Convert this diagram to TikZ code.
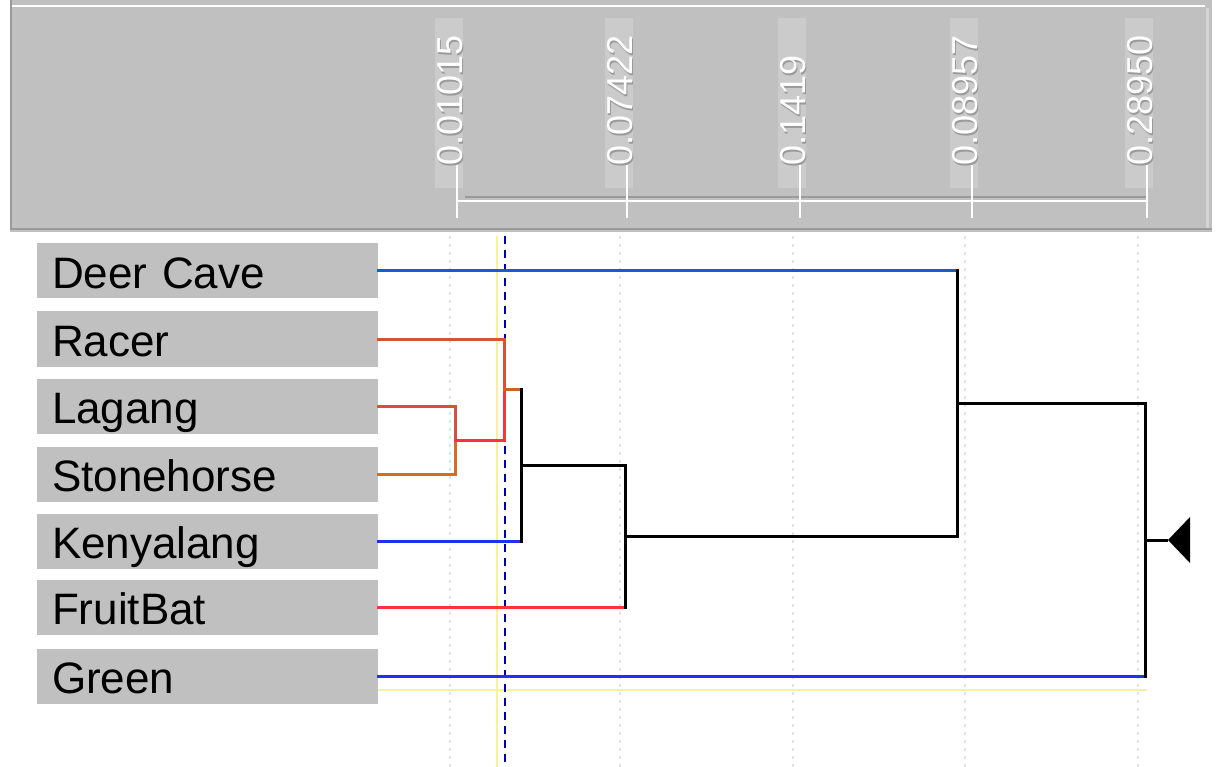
\documentclass[tikz,border=0pt]{standalone}
\usepackage{fontspec}
\setmainfont{Liberation Sans}
\definecolor{hdrgray}{HTML}{C0C0C0}
\definecolor{hdrdark}{HTML}{9A9A9A}
\definecolor{hdrlight}{HTML}{D4D4D4}
\definecolor{lblcol}{HTML}{CBCBCB}
\definecolor{boxgray}{HTML}{C0C0C0}
\definecolor{blueA}{HTML}{1060D0}
\definecolor{blueB}{HTML}{2030F0}
\definecolor{redA}{HTML}{D85038}
\definecolor{orngA}{HTML}{D86C1C}
\definecolor{redB}{HTML}{FF3040}
\definecolor{orngB}{HTML}{D06020}
\definecolor{dashcol}{HTML}{0000A8}
\definecolor{paleyel}{HTML}{F6F0A0}
\definecolor{gridcol}{HTML}{E2E2E2}
\tikzset{
  leafbox/.style={fill=boxgray, minimum height=55pt, text width=311pt, inner xsep=15pt, inner ysep=0pt,
    align=left, text height=45pt, text depth=10pt, font=\fontsize{44}{44}\selectfont},
  axlbl/.style={rotate=90, anchor=west, text=white, inner sep=0pt, font=\fontsize{36}{36}\selectfont},
  axshadow/.style={rotate=90, anchor=west, text=hdrdark, inner sep=0pt, font=\fontsize{36}{36}\selectfont},
  branch/.style={line width=3pt, line cap=rect},
  tick/.style={white, line width=2.5pt},
  gridline/.style={gridcol, line width=2pt, dash pattern=on 3pt off 5pt},
}
\begin{document}
\begin{tikzpicture}[x=1pt,y=-1pt]
\useasboundingbox (0,0) rectangle (1218,767);
\fill[white] (0,0) rectangle (1218,767);
% header band
\fill[hdrgray] (10,0) rectangle (1212,232);
\draw[white, line width=2pt] (10,6) -- (1205,6);
\draw[hdrdark, line width=2.5pt] (10,229) -- (1212,229);
\draw[hdrlight, line width=3pt] (1207,8) -- (1207,228);
\draw[hdrdark, line width=1.5pt] (11,0) -- (11,229);
% label columns
\foreach \x in {457,627,800,972,1147}{
  \fill[lblcol] (\x-22,18) rectangle (\x+6,188);
}
% axis
\coordinate (a0) at (457,201);
\coordinate (a4) at (1147,201);
\draw[hdrdark, line width=2pt] (465,197) -- (1147,197);
\draw[tick] (a0) -- (a4);
\foreach \x in {457,627,800,972,1147}{
  \draw[tick] (\x,165) -- (\x,218);
}
\node[axshadow] at (451.5,167.5) {0.01015};
\node[axlbl] (t0) at (450,166) {0.01015};
\node[axshadow] at (621.5,167.5) {0.07422};
\node[axlbl] (t1) at (620,166) {0.07422};
\node[axshadow] at (794.5,167.5) {0.1419};
\node[axlbl] (t2) at (793,166) {0.1419};
\node[axshadow] at (966.5,167.5) {0.08957};
\node[axlbl] (t3) at (965,166) {0.08957};
\node[axshadow] at (1141.5,167.5) {0.28950};
\node[axlbl] (t4) at (1140,166) {0.28950};
% faint grid columns
\foreach \x in {450,620,793,965,1138}{
  \draw[gridline] (\x,236) -- (\x,767);
}
% leaf boxes
\node[leafbox] (deer)  at (207.5,271) {Deer Cave};
\node[leafbox] (racer) at (207.5,339) {Racer};
\node[leafbox] (lag)   at (207.5,406) {Lagang};
\node[leafbox] (stone) at (207.5,474) {Stonehorse};
\node[leafbox] (keny)  at (207.5,541) {Kenyalang};
\node[leafbox] (fruit) at (207.5,607) {FruitBat};
\node[leafbox] (green) at (207.5,676) {Green};
% pale guide lines
\draw[paleyel, line width=1.5pt] (497,236) -- (497,767);
\draw[paleyel, line width=1.5pt] (378,690) -- (1147,690);
% cut line
\draw[dashcol, line width=2pt, dash pattern=on 8pt off 6pt] (505,236) -- (505,767);
% internal nodes
\coordinate (n1) at (455,440);
\coordinate (n2) at (504,389.5);
\coordinate (n3) at (521,465);
\coordinate (n4) at (625,536);
\coordinate (n5) at (957,403.5);
\coordinate (n6) at (1145,540);
\coordinate (root) at (1168,540);
% branches
\draw[branch, redA]  (lag.east) -| (n1);
\draw[branch, orngA] (stone.east) -| (n1);
\draw[branch, redB]  (n1) -| (n2);
\draw[branch, redA]  (racer.east) -| (n2);
\draw[branch, orngB] (n2) -- (n2 -| n3);
\draw[branch, blueB] (keny.east) -- (keny.east -| n3);
\draw[branch, black] (n2 -| n3) -- (keny.east -| n3);
\draw[branch, black] (n3) -- (n3 -| n4);
\draw[branch, redB]  (fruit.east) -- (fruit.east -| n4);
\draw[branch, black] (n3 -| n4) -- (fruit.east -| n4);
\draw[branch, black] (n4) -- (n4 -| n5);
\draw[branch, blueA] (deer.east) -- (deer.east -| n5);
\draw[branch, black] (deer.east -| n5) -- (n4 -| n5);
\draw[branch, black] (n5) -- (n5 -| n6);
\draw[branch, blueB] (green.east) -- (green.east -| n6);
\draw[branch, black] (n5 -| n6) -- (green.east -| n6);
\draw[line width=3pt, black] (n6) -- (root);
\fill[black] (root) -- ++(22,-23) -- ++(0,46) -- cycle;
\end{tikzpicture}
\end{document}
